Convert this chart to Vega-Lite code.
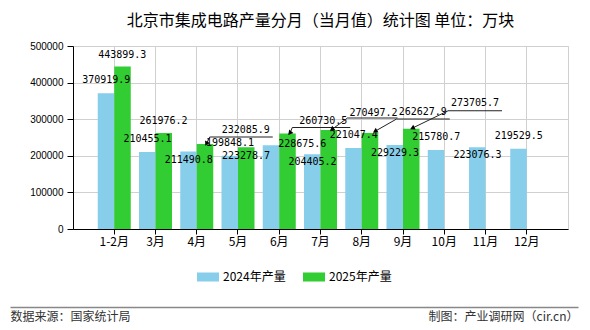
{
  "$schema": "https://vega.github.io/schema/vega-lite/v6.json",
  "width": 495,
  "height": 183,
  "autosize": "none",
  "padding": {"left": 73, "top": 46, "right": 22, "bottom": 101},
  "background": "white",
  "title": {"text": "北京市集成电路产量分月（当月值）统计图 单位：万块", "fontSize": 16, "fontWeight": "normal", "font": "Noto Sans CJK SC", "color": "#000", "anchor": "middle", "offset": 12},
  "data": {"values": [
    {"m": "1-2月", "s": "2024年产量", "v": 370919.9},
    {"m": "3月", "s": "2024年产量", "v": 210455.1},
    {"m": "4月", "s": "2024年产量", "v": 211490.8},
    {"m": "5月", "s": "2024年产量", "v": 199848.1},
    {"m": "6月", "s": "2024年产量", "v": 228675.6},
    {"m": "7月", "s": "2024年产量", "v": 204405.2},
    {"m": "8月", "s": "2024年产量", "v": 221047.4},
    {"m": "9月", "s": "2024年产量", "v": 229229.3},
    {"m": "10月", "s": "2024年产量", "v": 215780.7},
    {"m": "11月", "s": "2024年产量", "v": 223076.3},
    {"m": "12月", "s": "2024年产量", "v": 219529.5},
    {"m": "1-2月", "s": "2025年产量", "v": 443899.3},
    {"m": "3月", "s": "2025年产量", "v": 261976.2},
    {"m": "4月", "s": "2025年产量", "v": 232085.9},
    {"m": "5月", "s": "2025年产量", "v": 223278.7},
    {"m": "6月", "s": "2025年产量", "v": 260730.5},
    {"m": "7月", "s": "2025年产量", "v": 270497.2},
    {"m": "8月", "s": "2025年产量", "v": 262627.9},
    {"m": "9月", "s": "2025年产量", "v": 273705.7}
  ]},
  "layer": [
    {
      "encoding": {
        "x": {"field": "m", "type": "nominal", "sort": ["1-2月","3月","4月","5月","6月","7月","8月","9月","10月","11月","12月"],
          "scale": {"paddingInner": 0.2, "paddingOuter": 0.6},
          "axis": {"title": null, "grid": true, "gridColor": "#d0d0d0", "domainColor": "#000", "tickColor": "#000", "tickSize": 5, "labelAngle": 0, "labelFont": "Noto Sans CJK SC", "labelFontSize": 12, "labelColor": "#000", "labelPadding": 2}},
        "y": {"field": "v", "type": "quantitative", "scale": {"domain": [0, 500000], "nice": false},
          "axis": {"title": null, "values": [0,100000,200000,300000,400000,500000], "format": "d", "grid": true, "gridColor": "#d0d0d0", "domainColor": "#000", "tickColor": "#000", "tickSize": 6, "labelPadding": 4, "labelFont": "Liberation Sans", "labelFontSize": 10, "labelColor": "#000"}}
      },
      "layer": [
        {
          "mark": {"type": "bar"},
          "encoding": {
            "xOffset": {"field": "s", "type": "nominal", "scale": {"paddingInner": 0, "paddingOuter": 0}},
            "color": {"field": "s", "type": "nominal", "scale": {"domain": ["2024年产量", "2025年产量"], "range": ["#87CEEB", "#32CD32"]},
              "legend": {"orient": "none", "legendX": 124, "legendY": 220, "direction": "horizontal", "title": null, "symbolType": "M-1,-0.41H1V0.41H-1Z", "symbolSize": 484, "symbolStrokeWidth": 0, "labelFont": "Noto Sans CJK SC", "labelFontSize": 12, "labelColor": "#000", "labelOffset": 4, "columnPadding": 17}}
          }
        },
        {
          "transform": [{"filter": "datum.s == '2024年产量' && indexof(['1-2月','3月','5月','8月','10月','12月'], datum.m) >= 0"}],
          "mark": {"type": "text", "dx": -8, "dy": -13, "font": "DejaVu Sans Mono", "fontSize": 10, "baseline": "middle", "color": "#000"},
          "encoding": {"text": {"field": "v", "type": "quantitative", "format": ".1f"}}
        },
        {
          "transform": [{"filter": "datum.s == '2024年产量' && indexof(['4月','7月','9月','11月'], datum.m) >= 0"}],
          "mark": {"type": "text", "dx": -8, "dy": 8, "font": "DejaVu Sans Mono", "fontSize": 10, "baseline": "middle", "color": "#000"},
          "encoding": {"text": {"field": "v", "type": "quantitative", "format": ".1f"}}
        },
        {
          "transform": [{"filter": "datum.s == '2024年产量' && datum.m == '6月'"}],
          "mark": {"type": "text", "dx": 23, "dy": -1, "font": "DejaVu Sans Mono", "fontSize": 10, "baseline": "middle", "color": "#000"},
          "encoding": {"text": {"field": "v", "type": "quantitative", "format": ".1f"}}
        },
        {
          "transform": [{"filter": "datum.s == '2025年产量' && indexof(['1-2月','3月'], datum.m) >= 0"}],
          "mark": {"type": "text", "dx": 8, "dy": -12, "font": "DejaVu Sans Mono", "fontSize": 10, "baseline": "middle", "color": "#000"},
          "encoding": {"text": {"field": "v", "type": "quantitative", "format": ".1f"}}
        },
        {
          "transform": [{"filter": "datum.s == '2025年产量' && datum.m == '5月'"}],
          "mark": {"type": "text", "dx": 8, "dy": 9, "font": "DejaVu Sans Mono", "fontSize": 10, "baseline": "middle", "color": "#000"},
          "encoding": {"text": {"field": "v", "type": "quantitative", "format": ".1f"}}
        },
        {
          "transform": [{"filter": "datum.s == '2025年产量' && datum.m == '4月'"}],
          "layer": [
            {"mark": {"type": "text", "dx": 49, "dy": -14, "font": "DejaVu Sans Mono", "fontSize": 10, "baseline": "middle", "color": "#000"}, "encoding": {"text": {"field": "v", "type": "quantitative", "format": ".1f"}}},
            {"mark": {"type": "tick", "orient": "horizontal", "xOffset": 44.5, "yOffset": -7, "size": 63, "thickness": 1, "color": "#222", "opacity": 1}, "encoding": {}},
            {"mark": {"type": "rule", "xOffset": 10, "x2Offset": 13, "yOffset": -1, "y2Offset": -7, "color": "#222"}, "encoding": {"x2": {"field": "m"}, "y2": {"field": "v"}}},
            {"mark": {"type": "point", "shape": "triangle", "filled": true, "size": 30, "angle": 207, "xOffset": 10, "yOffset": -1, "color": "#000", "opacity": 1}, "encoding": {}}
          ]
        },
        {
          "transform": [{"filter": "datum.s == '2025年产量' && datum.m == '6月'"}],
          "layer": [
            {"mark": {"type": "text", "dx": 44, "dy": -13, "font": "DejaVu Sans Mono", "fontSize": 10, "baseline": "middle", "color": "#000"}, "encoding": {"text": {"field": "v", "type": "quantitative", "format": ".1f"}}},
            {"mark": {"type": "tick", "orient": "horizontal", "xOffset": 42, "yOffset": -6, "size": 58, "thickness": 1, "color": "#222", "opacity": 1}, "encoding": {}},
            {"mark": {"type": "rule", "xOffset": 11, "x2Offset": 13, "yOffset": -1, "y2Offset": -6, "color": "#222"}, "encoding": {"x2": {"field": "m"}, "y2": {"field": "v"}}},
            {"mark": {"type": "point", "shape": "triangle", "filled": true, "size": 30, "angle": 220, "xOffset": 11, "yOffset": -1, "color": "#000", "opacity": 1}, "encoding": {}}
          ]
        },
        {
          "transform": [{"filter": "datum.s == '2025年产量' && datum.m == '7月'"}],
          "layer": [
            {"mark": {"type": "text", "dx": 53, "dy": -17, "font": "DejaVu Sans Mono", "fontSize": 10, "baseline": "middle", "color": "#000"}, "encoding": {"text": {"field": "v", "type": "quantitative", "format": ".1f"}}},
            {"mark": {"type": "tick", "orient": "horizontal", "xOffset": 52, "yOffset": -12, "size": 50, "thickness": 1, "color": "#222", "opacity": 1}, "encoding": {}},
            {"mark": {"type": "rule", "xOffset": 12, "x2Offset": 27, "yOffset": -1, "y2Offset": -12, "color": "#222"}, "encoding": {"x2": {"field": "m"}, "y2": {"field": "v"}}},
            {"mark": {"type": "point", "shape": "triangle", "filled": true, "size": 30, "angle": 234, "xOffset": 12, "yOffset": -1, "color": "#000", "opacity": 1}, "encoding": {}}
          ]
        },
        {
          "transform": [{"filter": "datum.s == '2025年产量' && datum.m == '8月'"}],
          "layer": [
            {"mark": {"type": "text", "dx": 61, "dy": -21, "font": "DejaVu Sans Mono", "fontSize": 10, "baseline": "middle", "color": "#000"}, "encoding": {"text": {"field": "v", "type": "quantitative", "format": ".1f"}}},
            {"mark": {"type": "tick", "orient": "horizontal", "xOffset": 61.5, "yOffset": -14, "size": 53, "thickness": 1, "color": "#222", "opacity": 1}, "encoding": {}},
            {"mark": {"type": "rule", "xOffset": 14, "x2Offset": 35, "yOffset": -2, "y2Offset": -14, "color": "#222"}, "encoding": {"x2": {"field": "m"}, "y2": {"field": "v"}}},
            {"mark": {"type": "point", "shape": "triangle", "filled": true, "size": 30, "angle": 240, "xOffset": 14, "yOffset": -2, "color": "#000", "opacity": 1}, "encoding": {}}
          ]
        },
        {
          "transform": [{"filter": "datum.s == '2025年产量' && datum.m == '9月'"}],
          "layer": [
            {"mark": {"type": "text", "dx": 72, "dy": -26, "font": "DejaVu Sans Mono", "fontSize": 10, "baseline": "middle", "color": "#000"}, "encoding": {"text": {"field": "v", "type": "quantitative", "format": ".1f"}}},
            {"mark": {"type": "tick", "orient": "horizontal", "xOffset": 72, "yOffset": -18, "size": 54, "thickness": 1, "color": "#222", "opacity": 1}, "encoding": {}},
            {"mark": {"type": "rule", "xOffset": 10, "x2Offset": 45, "yOffset": -1, "y2Offset": -18, "color": "#222"}, "encoding": {"x2": {"field": "m"}, "y2": {"field": "v"}}},
            {"mark": {"type": "point", "shape": "triangle", "filled": true, "size": 30, "angle": 244, "xOffset": 10, "yOffset": -1, "color": "#000", "opacity": 1}, "encoding": {}}
          ]
        }
      ]
    },
    {
      "mark": {"type": "rule", "opacity": 0},
      "encoding": {
        "x": {"datum": 0, "type": "quantitative", "scale": {"domain": [0, 1], "range": [-63, 505]},
          "axis": {"orient": "bottom", "offset": 78, "values": [0, 1], "labelExpr": "datum.value == 0 ? '数据来源：国家统计局' : '制图：产业调研网（cir.cn）'", "labelFlush": true, "ticks": false, "grid": false, "domainColor": "#888", "domainWidth": 1.5, "labelFont": "Noto Sans CJK SC", "labelFontSize": 12, "labelColor": "#333", "labelPadding": 4, "title": null}}
      }
    }
  ],
  "resolve": {"scale": {"x": "independent"}, "axis": {"x": "independent"}},
  "config": {"view": {"stroke": "#d0d0d0"}, "font": "Noto Sans CJK SC"}
}
